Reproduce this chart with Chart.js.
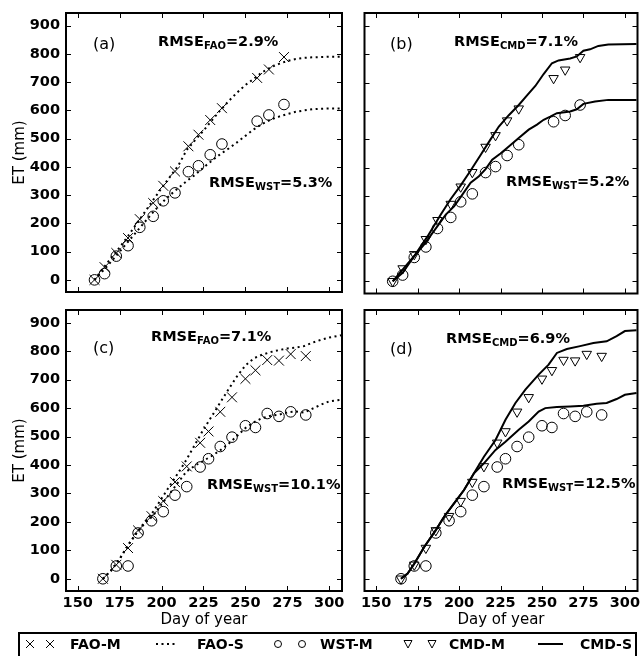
<!DOCTYPE html>
<html>
<head>
<meta charset="utf-8">
<script src="https://cdn.jsdelivr.net/npm/chart.js@4"></script>
<style>
  body { margin: 0; background: #fff; width: 644px; height: 656px; overflow: hidden; position: relative; font-family: 'DejaVu Sans', sans-serif; }
  canvas { position: absolute; }
  .note { position: absolute; white-space: nowrap; color: #000; line-height: 18px; }
  .rmse { font: bold 14.5px 'DejaVu Sans'; }
  .rmse sub { font-size: 10px; vertical-align: -3px; line-height: 0; }
  .tag { font: 16px 'DejaVu Sans'; }
  #legend { position: absolute; left: 18px; top: 632px; width: 615px; height: 40px; border: 2px solid #000; }
  .lg { position: absolute; font: bold 14px 'DejaVu Sans'; line-height: 18px; top: 635px; white-space: nowrap; }
  .lgsym { position: absolute; top: 637px; }
</style>
</head>
<body>
<canvas id="pa" width="350" height="300" style="left:0;top:0"></canvas>
<canvas id="pb" width="286" height="300" style="left:358px;top:0"></canvas>
<canvas id="pc" width="350" height="334" style="left:0;top:300px"></canvas>
<canvas id="pd" width="286" height="334" style="left:358px;top:300px"></canvas>

<div class="note tag" style="left:93px;top:34px">(a)</div>
<div class="note tag" style="left:390px;top:34px">(b)</div>
<div class="note tag" style="left:93px;top:338px">(c)</div>
<div class="note tag" style="left:390px;top:339px">(d)</div>

<div class="note rmse" style="left:158px;top:33px">RMSE<sub>FAO</sub>=2.9%</div>
<div class="note rmse" style="left:209px;top:174px">RMSE<sub>WST</sub>=5.3%</div>
<div class="note rmse" style="left:454px;top:33px">RMSE<sub>CMD</sub>=7.1%</div>
<div class="note rmse" style="left:506px;top:173px">RMSE<sub>WST</sub>=5.2%</div>
<div class="note rmse" style="left:151px;top:328px">RMSE<sub>FAO</sub>=7.1%</div>
<div class="note rmse" style="left:207px;top:476px">RMSE<sub>WST</sub>=10.1%</div>
<div class="note rmse" style="left:446px;top:330px">RMSE<sub>CMD</sub>=6.9%</div>
<div class="note rmse" style="left:502px;top:475px">RMSE<sub>WST</sub>=12.5%</div>

<div id="legend"></div>
<svg class="lgsym" style="left:24px" width="32" height="14"><path d="M2 3 L10 11 M10 3 L2 11 M22 3 L30 11 M30 3 L22 11" stroke="#000" stroke-width="1" fill="none"/></svg>
<div class="lg" style="left:70px">FAO-M</div>
<svg class="lgsym" style="left:155px" width="22" height="14"><line x1="1" y1="7" x2="21" y2="7" stroke="#000" stroke-width="2" stroke-dasharray="2 3.5"/></svg>
<div class="lg" style="left:197px">FAO-S</div>
<svg class="lgsym" style="left:272px" width="36" height="14"><circle cx="6" cy="7" r="3.5" stroke="#000" fill="none"/><circle cx="30" cy="7" r="3.5" stroke="#000" fill="none"/></svg>
<div class="lg" style="left:320px">WST-M</div>
<svg class="lgsym" style="left:402px" width="36" height="14"><path d="M2 3.5 L10 3.5 L6 11 Z M26 3.5 L34 3.5 L30 11 Z" stroke="#000" stroke-width="1" fill="none"/></svg>
<div class="lg" style="left:449px">CMD-M</div>
<svg class="lgsym" style="left:537px" width="28" height="14"><line x1="1" y1="7" x2="26" y2="7" stroke="#000" stroke-width="2"/></svg>
<div class="lg" style="left:580px">CMD-S</div>

<script>
// --- axes ---
const xTicks = [150, 175, 200, 225, 250, 275, 300];
const yTicks = [0, 100, 200, 300, 400, 500, 600, 700, 800, 900];
const X_MIN = 143, X_MAX = 307.6;
const Y_MIN = -43, Y_MAX = 945;

// --- year 1 (panels a, b): measured ---
const measDays1 = [160, 166, 173, 180, 187, 195, 201, 208, 216, 222, 229, 236, 257, 264, 273];
const etM1 = [0, 45, 95, 148, 215, 272, 333, 384, 473, 514, 566, 608, 715, 745, 789];
const wstM1 = [0, 22, 84, 121, 186, 225, 280, 308, 383, 404, 443, 481, 562, 584, 621];

// --- year 1: FAO-S (panel a) ---
const simDays1 = [160, 165, 170, 175, 180, 185, 190, 195, 200, 205, 210, 215, 220, 225, 230,
                  235, 240, 245, 250, 255, 260, 265, 270, 275, 280, 285, 290, 295, 300, 307];
const faoS1hi = [0, 40, 78, 115, 155, 198, 240, 283, 325, 365, 405, 460, 495, 528, 565,
                 600, 633, 663, 690, 712, 735, 752, 765, 775, 782, 786, 788, 789, 790, 790];
const faoS1lo = [0, 32, 65, 100, 135, 170, 205, 240, 272, 300, 325, 350, 372, 398, 422,
                 445, 465, 487, 510, 533, 552, 567, 578, 587, 595, 600, 604, 606, 607, 607];

// --- year 1: CMD-S (panel b) ---
const cmdDays1hi = [160, 167, 173, 181, 189, 195, 201, 207, 213, 219, 224, 230, 236, 241, 246, 251, 256, 260, 267, 271, 275, 279, 284, 290, 307];
const cmdS1hi = [0, 48, 89, 158, 235, 290, 338, 390, 445, 500, 545, 585, 621, 655, 688, 730, 768, 778, 785, 792, 812, 817, 829, 834, 836];
const cmdDays1lo = [160, 166, 173, 179, 187, 192, 197, 202, 207, 212, 216, 220, 225, 230, 236, 242, 247, 251, 255, 259, 267, 271, 275, 282, 290, 307];
const cmdS1lo = [0, 30, 89, 130, 194, 235, 264, 305, 347, 370, 395, 428, 450, 475, 505, 534, 552, 569, 580, 592, 598, 606, 625, 633, 639, 639];

// --- year 2 (panels c, d): measured ---
const measDays2 = [165, 173, 180, 186, 194, 201, 208, 215, 223, 228, 235, 242, 250, 256, 263, 270, 277, 286];
const etM2 = [0, 49, 108, 170, 220, 273, 340, 395, 478, 518, 587, 638, 703, 733, 769, 767, 790, 783];
const wstM2 = [0, 45, 45, 161, 204, 236, 294, 324, 393, 422, 465, 498, 538, 532, 581, 571, 587, 576];

// --- year 2: FAO-S (panel c) ---
const simDays2 = [165, 170, 175, 180, 185, 190, 195, 200, 205, 210, 215, 220, 225, 230, 235,
                  240, 245, 250, 255, 260, 265, 270, 275, 280, 285, 290, 295, 300, 307];
const faoS2hi = [0, 30, 70, 118, 160, 200, 236, 282, 328, 373, 420, 473, 525, 572, 620,
                 667, 712, 750, 775, 788, 797, 804, 810, 813, 818, 830, 840, 848, 856];
const faoS2lo = [0, 30, 70, 118, 160, 195, 222, 262, 300, 340, 378, 398, 415, 432, 452,
                 475, 502, 530, 550, 565, 573, 577, 585, 588, 584, 598, 612, 624, 629];

// --- year 2: CMD-S (panel d) ---
const cmdDays2hi = [165, 169, 173, 179, 186, 191, 197, 203, 209, 215, 222, 228, 234, 240, 248, 254, 259, 265, 273, 281, 289, 295, 300, 307];
const cmdS2hi = [0, 18, 53, 112, 171, 218, 265, 312, 371, 429, 488, 559, 618, 665, 718, 753, 794, 808, 818, 829, 835, 853, 871, 874];
const cmdDays2lo = [165, 169, 173, 179, 186, 191, 197, 203, 209, 215, 222, 228, 236, 242, 248, 252, 259, 267, 275, 283, 289, 295, 300, 307];
const cmdS2lo = [0, 18, 53, 112, 171, 218, 265, 312, 371, 406, 453, 482, 524, 553, 588, 600, 604, 606, 608, 615, 618, 632, 647, 653];

const pts = (xs, ys) => xs.map((x, i) => ({ x: x, y: ys[i] }));

const tickFont = { family: 'DejaVu Sans', size: 14.5, weight: 'bold' };
const titleFont = { family: 'DejaVu Sans', size: 15 };

// frame + inside ticks on all four sides
const frameTicks = {
    id: 'frameTicks',
    afterDraw(chart) {
        const { ctx, chartArea } = chart;
        const { left, top, right, bottom } = chartArea;
        const xs = chart.scales.x, ys = chart.scales.y;
        ctx.save();
        ctx.strokeStyle = '#000';
        ctx.lineWidth = 1;
        ctx.beginPath();
        xTicks.forEach(v => {
            const px = Math.round(xs.getPixelForValue(v)) + 0.5;
            ctx.moveTo(px, bottom); ctx.lineTo(px, bottom - 5);
            ctx.moveTo(px, top); ctx.lineTo(px, top + 5);
        });
        yTicks.forEach(v => {
            const py = Math.round(ys.getPixelForValue(v)) + 0.5;
            ctx.moveTo(left, py); ctx.lineTo(left + 5, py);
            ctx.moveTo(right, py); ctx.lineTo(right - 5, py);
        });
        ctx.stroke();
        ctx.lineWidth = 2;
        ctx.strokeRect(left, top, right - left, bottom - top);
        ctx.restore();
    }
};

function simLine(data, dotted) {
    return {
        data: data, showLine: true, pointRadius: 0,
        borderColor: '#000', borderWidth: 2,
        borderDash: dotted ? [2, 3.5] : [],
        tension: 0
    };
}

function marks(data, style, r) {
    return {
        data: data, showLine: false,
        pointStyle: style, pointRadius: r, pointRotation: style === 'triangle' ? 180 : 0,
        borderColor: '#000', borderWidth: 1,
        backgroundColor: 'rgba(0,0,0,0)'
    };
}

function makePanel(id, datasets, cfg) {
    const ctx = document.getElementById(id).getContext('2d');
    return new Chart(ctx, {
        type: 'scatter',
        data: { datasets: datasets },
        plugins: [frameTicks],
        options: {
            responsive: false,
            animation: false,
            events: [],
            layout: { padding: cfg.pad },
            plugins: { legend: { display: false }, tooltip: { enabled: false } },
            scales: {
                x: {
                    type: 'linear', min: X_MIN, max: X_MAX,
                    afterBuildTicks: s => { s.ticks = xTicks.map(v => ({ value: v })); },
                    afterFit: s => { s.height = cfg.xh; s.paddingLeft = 0; s.paddingRight = 0; },
                    grid: { display: false, drawTicks: false },
                    border: { display: false },
                    ticks: { display: cfg.xLab, font: tickFont, color: '#000', padding: 4, maxRotation: 0, autoSkip: false },
                    title: { display: cfg.xLab, text: 'Day of year', font: titleFont, color: '#000', padding: { top: 0, bottom: 5 } }
                },
                y: {
                    type: 'linear', min: Y_MIN, max: Y_MAX,
                    afterBuildTicks: s => { s.ticks = yTicks.map(v => ({ value: v })); },
                    afterFit: s => { s.width = cfg.yw; s.paddingTop = 0; s.paddingBottom = 0; },
                    grid: { display: false, drawTicks: false },
                    border: { display: false },
                    ticks: { display: cfg.yLab, font: tickFont, color: '#000', padding: 6, autoSkip: false },
                    title: { display: cfg.yLab, text: 'ET (mm)', font: titleFont, color: '#000', padding: { top: 11, bottom: 0 } }
                }
            }
        }
    });
}

// (a) FAO, year 1
makePanel('pa', [
    simLine(pts(simDays1, faoS1hi), true),
    simLine(pts(simDays1, faoS1lo), true),
    marks(pts(measDays1, etM1), 'crossRot', 7),
    marks(pts(measDays1, wstM1), 'circle', 5.3)
], { pad: { top: 13, right: 3, bottom: 6, left: 0 }, xh: 0, yw: 66, xLab: false, yLab: true });

// (b) CMD, year 1
makePanel('pb', [
    simLine(pts(cmdDays1hi, cmdS1hi), false),
    simLine(pts(cmdDays1lo, cmdS1lo), false),
    marks(pts(measDays1, etM1), 'triangle', 5.5),
    marks(pts(measDays1, wstM1), 'circle', 5.3)
], { pad: { top: 13, right: 1, bottom: 6, left: 3 }, xh: 0, yw: 0, xLab: false, yLab: false });

// (c) FAO, year 2
makePanel('pc', [
    simLine(pts(simDays2, faoS2hi), true),
    simLine(pts(simDays2, faoS2lo), true),
    marks(pts(measDays2, etM2), 'crossRot', 7),
    marks(pts(measDays2, wstM2), 'circle', 5.3)
], { pad: { top: 10, right: 3, bottom: 0, left: 0 }, xh: 43, yw: 66, xLab: true, yLab: true });

// (d) CMD, year 2
makePanel('pd', [
    simLine(pts(cmdDays2hi, cmdS2hi), false),
    simLine(pts(cmdDays2lo, cmdS2lo), false),
    marks(pts(measDays2, etM2), 'triangle', 5.5),
    marks(pts(measDays2, wstM2), 'circle', 5.3)
], { pad: { top: 10, right: 1, bottom: 0, left: 3 }, xh: 43, yw: 0, xLab: true, yLab: false });
</script>
</body>
</html>
